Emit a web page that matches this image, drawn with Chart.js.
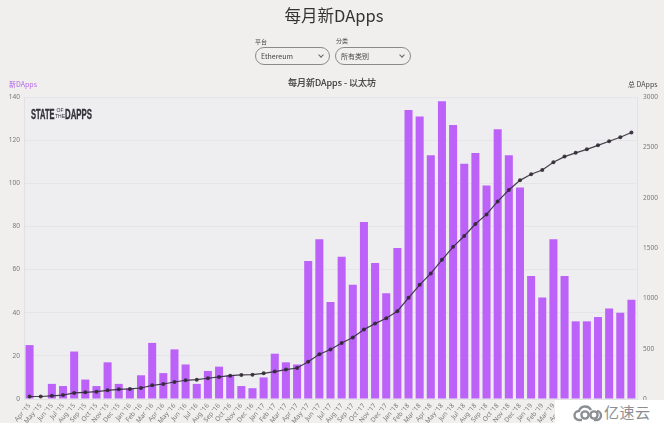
<!DOCTYPE html>
<html>
<head>
<meta charset="utf-8">
<script src="https://cdn.jsdelivr.net/npm/chart.js@4"></script>
<style>
html, body { margin: 0; padding: 0; background: #fff; }
#page { position: absolute; left: 0; top: 0; width: 664px; height: 423px; background: #f0efee; overflow: hidden; }
#page div { position: absolute; white-space: nowrap; }
body, div { font-family: "Noto Sans CJK SC", "Noto Sans", sans-serif; }
canvas { position: absolute; left: 0; top: 0; }
#title { left: 2px; width: 664px; top: 1px; text-align: center; font-size: 16.5px; line-height: 28px; color: #333; }
.lbl { font-size: 6px; line-height: 8px; color: #444; }
.sel { height: 16px; border: 1px solid #8a8a8a; border-radius: 9px; font-size: 7px; line-height: 16px; color: #444; text-indent: 5px; box-sizing: content-box; }
.chev { width: 3px; height: 3px; border-right: 1px solid #666; border-bottom: 1px solid #666; transform: rotate(45deg); top: 5px; }
#chartTitle { left: 0; width: 664px; top: 77px; text-align: center; font-size: 9px; line-height: 12px; color: #333; -webkit-text-stroke: .15px #333; }
#leftT { left: 9px; top: 79px; font-size: 7px; line-height: 10px; color: #b565ea; }
#rightT { left: 628px; top: 79px; font-size: 7px; line-height: 10px; color: #444; }
.logo { top: 106px; font-family: "Liberation Sans", sans-serif; font-weight: bold; font-size: 15px; line-height: 16px; color: #33323a; -webkit-text-stroke: .4px #33323a; transform-origin: left top; }
#of { left: 55px; top: 107px; font-family: "Liberation Sans", sans-serif; font-size: 5px; line-height: 6px; color: #33323a; text-align: center; }
#wm { position: absolute; left: 555px; top: 400px; width: 109px; height: 25px; background: #fff; }
#wmText { position: absolute; left: 604px; top: 402px; font-size: 15px; line-height: 20px; color: #8b8f94; letter-spacing: .5px; }
#wm svg { position: absolute; left: 18px; top: 4px; }
</style>
</head>
<body>
<div id="page">
  <canvas id="my-chart" width="664" height="425"></canvas>
  <div id="title">每月新DApps</div>
  <div class="lbl" style="left:255px;top:38px">平台</div>
  <div class="sel" style="left:255px;top:47px;width:73px">Ethereum<div class="chev" style="left:63px"></div></div>
  <div class="lbl" style="left:336px;top:37px">分类</div>
  <div class="sel" style="left:335px;top:47px;width:74px">所有类别<div class="chev" style="left:64px"></div></div>
  <div id="chartTitle">每月新DApps - 以太坊</div>
  <div id="leftT">新DApps</div>
  <div id="rightT">总 DApps</div>
  <div class="logo" style="left:31px;transform:scaleX(.5)">STATE</div>
  <div id="of">OF<br>THE</div>
  <div class="logo" style="left:65px;transform:scaleX(.52)">DAPPS</div>
</div>
<div id="wm">
  <svg width="30" height="18" viewBox="0 0 30 18" fill="none" stroke="#8b8f94" stroke-width="2.4">
    <path d="M9 16H6a4.5 4.5 0 0 1 0-9 6.5 6.5 0 0 1 12-1"/>
    <circle cx="12" cy="11" r="3.6"/>
    <circle cx="21" cy="11" r="3.6"/>
    <path d="M21 16h2a4.5 4.5 0 0 0 1-9"/>
  </svg>
</div>
<div id="wmText">亿速云</div>
<script>
const months = ["Apr '15","May '15","Jun '15","Jul '15","Aug '15","Sep '15","Oct '15","Nov '15","Dec '15",
    "Jan '16","Feb '16","Mar '16","Apr '16","May '16","Jun '16","Jul '16","Aug '16","Sep '16","Oct '16","Nov '16","Dec '16",
    "Jan '17","Feb '17","Mar '17","Apr '17","May '17","Jun '17","Jul '17","Aug '17","Sep '17","Oct '17","Nov '17","Dec '17",
    "Jan '18","Feb '18","Mar '18","Apr '18","May '18","Jun '18","Jul '18","Aug '18","Sep '18","Oct '18","Nov '18","Dec '18",
    "Jan '19","Feb '19","Mar '19","Apr '19","May '19","Jun '19","Jul '19","Aug '19","Sep '19","Oct '19"];

const new_dapps = [25,0,7,6,22,9,6,17,7,5,11,26,12,23,16,7,13,15,11,6,5,
    10,21,17,16,64,74,45,66,53,82,63,49,
    70,134,131,113,138,127,109,114,99,125,113,98,
    57,47,74,57,36,36,38,42,40,46];

const total_dapps = [25,25,32,39,60,66,73,86,96,100,109,136,149,169,186,192,206,219,232,239,242,
    255,272,292,308,371,444,491,557,610,690,749,803,
    872,1005,1134,1247,1383,1512,1619,1738,1834,1963,2076,2172,
    2232,2275,2351,2408,2445,2480,2520,2560,2600,2647];

const left_ticks = [0,20,40,60,80,100,120,140];
const right_ticks = [0,500,1000,1500,2000,2500,3000];

// plot background is a bit cooler than the page
const plotBg = {
    id: 'plotBg',
    beforeDraw(chart) {
        const a = chart.chartArea;
        chart.ctx.fillStyle = '#eeedf0';
        chart.ctx.fillRect(a.left, a.top, a.width, a.height);
    }
};

new Chart(document.getElementById('my-chart'), {
    type: 'bar',
    plugins: [plotBg],
    data: {
        labels: months,
        datasets: [
            {type: 'line', label: '总 DApps', data: total_dapps, yAxisID: 'y1', order: 0,
             borderColor: 'rgba(45,40,50,0.88)', backgroundColor: 'rgba(45,40,50,0.88)', borderWidth: 1.2,
             pointRadius: 2, pointBorderWidth: 0, tension: 0},
            {label: '新DApps', data: new_dapps, yAxisID: 'y', order: 1,
             backgroundColor: '#bc62f8', barPercentage: 0.72, categoryPercentage: 1}
        ]
    },
    options: {
        responsive: false,
        animation: false,
        layout: {padding: {top: 97, bottom: 2, left: 0, right: 0}},
        plugins: {legend: {display: false}, title: {display: false}, tooltip: {enabled: false}},
        scales: {
            x: {
                offset: true,
                grid: {drawOnChartArea: false, drawTicks: false},
                border: {color: '#e2e1e4'},
                afterFit(scale) { scale.height = 24; },
                ticks: {autoSkip: false, minRotation: 50, maxRotation: 50, padding: 3,
                    color: '#777', font: {size: 6.5, family: '"Noto Sans", sans-serif'}}
            },
            y: {
                position: 'left', min: 0, max: 140,
                afterFit(scale) { scale.width = 24; },
                afterBuildTicks(scale) { scale.ticks = left_ticks.map(v => ({value: v})); },
                grid: {color: '#e5e4e7', drawTicks: false},
                border: {color: '#e2e1e4'},
                ticks: {padding: 4, color: '#777', font: {size: 6.5, family: '"Noto Sans", sans-serif'}}
            },
            y1: {
                position: 'right', min: 0, max: 3000,
                afterFit(scale) { scale.width = 27; },
                afterBuildTicks(scale) { scale.ticks = right_ticks.map(v => ({value: v})); },
                grid: {display: false, drawTicks: false},
                border: {color: '#e2e1e4'},
                ticks: {padding: 6, color: '#777', font: {size: 6.5, family: '"Noto Sans", sans-serif'},
                    callback: v => String(v)}
            }
        }
    }
});
</script>
</body>
</html>
